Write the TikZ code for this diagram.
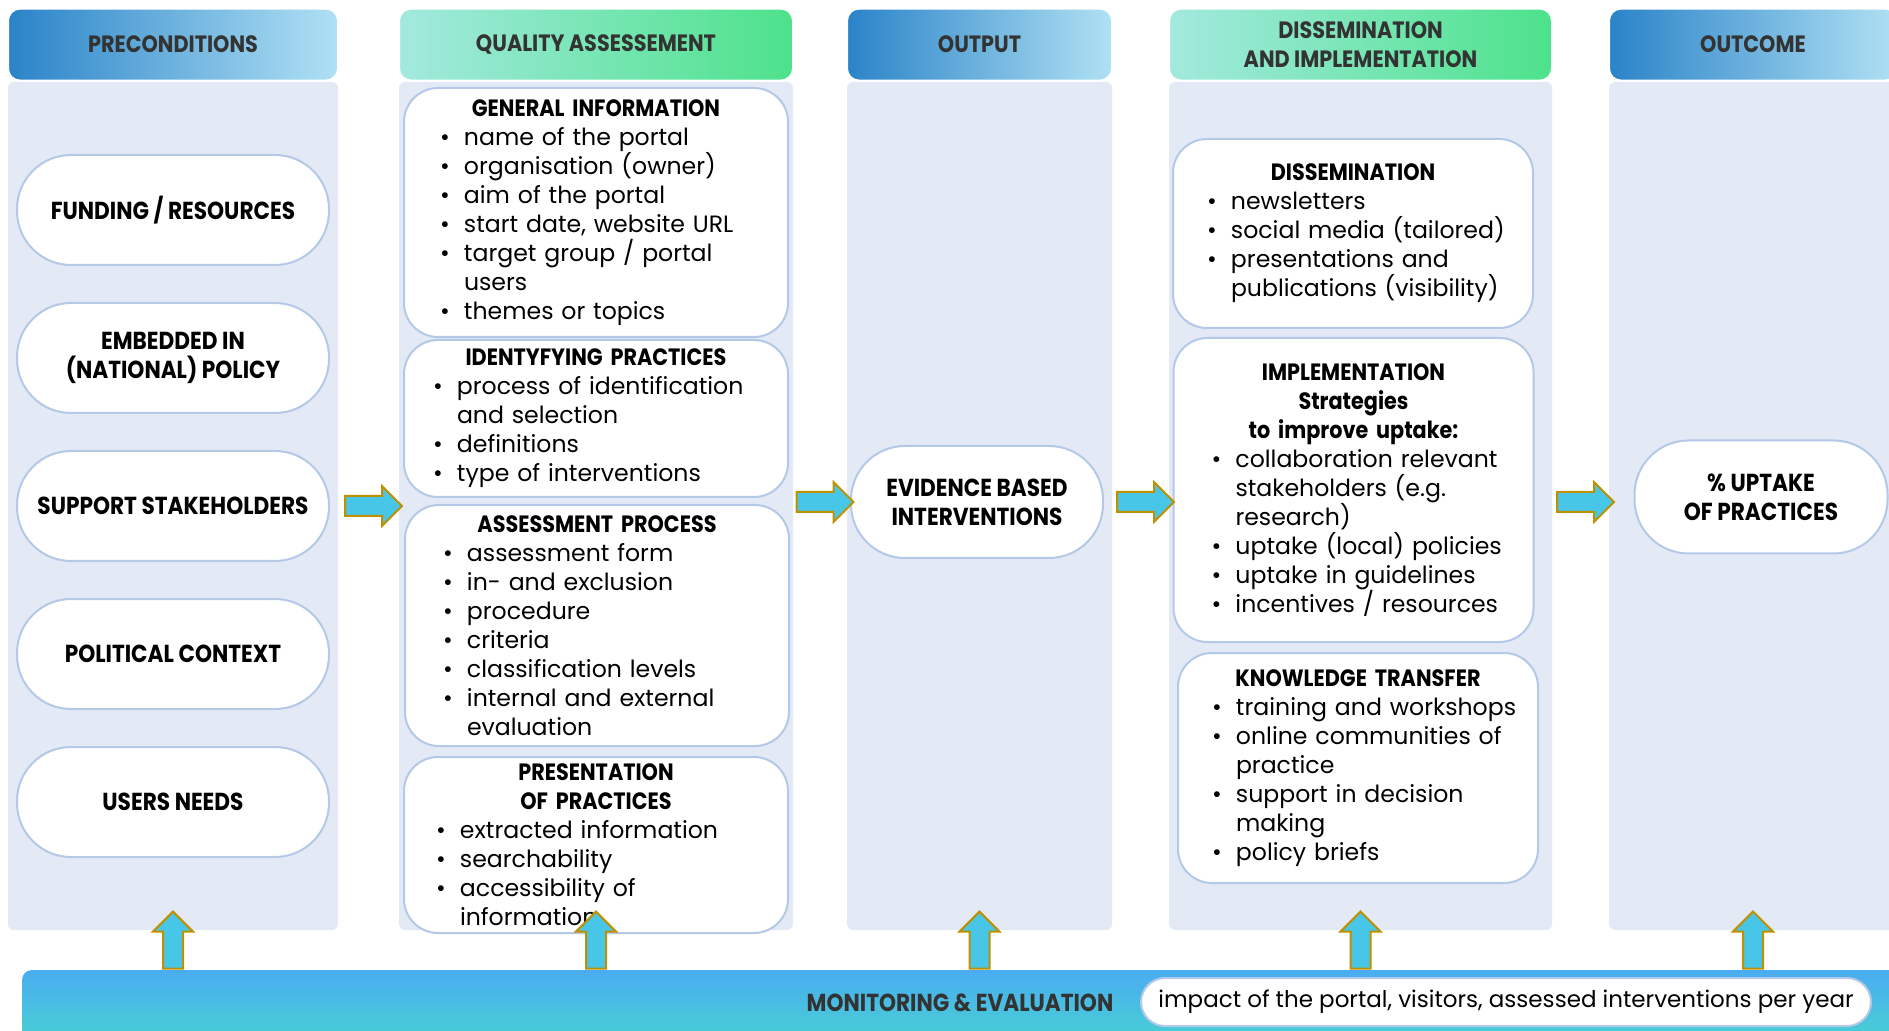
\documentclass[tikz,border=0pt]{standalone}
\usepackage{fontspec}
\setmainfont{Poppins}[BoldFeatures={FakeStretch=0.88}]
\usetikzlibrary{
  calc,
  positioning,
  shapes.arrows
}

\definecolor{colbody}{HTML}{E3EAF5}
\definecolor{nodeline}{HTML}{B4C8E8}
\definecolor{headdark}{HTML}{2A83C8}
\definecolor{headlight}{HTML}{B0E1F4}
\definecolor{greenlight}{HTML}{A3E9DE}
\definecolor{greendark}{HTML}{4DE28B}
\definecolor{arrowfill}{HTML}{47C6E8}
\definecolor{arrowline}{HTML}{BF9000}
\definecolor{titlegray}{HTML}{333333}
\definecolor{bartop}{HTML}{4AACF1}
\definecolor{barbottom}{HTML}{48D0D3}

\newcommand{\bodysize}{\fontsize{11.8}{14.5}\selectfont}
\newcommand{\pillsize}{\fontsize{12.3}{14.5}\selectfont}

% One bullet line, continuation lines hang under the text.
\newcommand{\bul}[1]{\par\hangindent=12pt\hangafter=1\noindent
  \makebox[12pt][l]{\textbullet}#1}

\tikzset{
  % For the pale columns behind every stage.
  stage column/.style={
    fill=colbody,
    rounded corners=3pt,
    minimum height=424pt,
    inner sep=0pt},
%
  % For the headers on top of the columns.
  col head/.style={
    draw=white,
    line width=1pt,
    rounded corners=6pt,
    minimum height=36pt,
    inner sep=0pt,
    align=center,
    text=titlegray,
    font=\bodysize\bfseries},
  blue head/.style={
    col head,
    left color=headdark,
    right color=headlight},
  green head/.style={
    col head,
    left color=greenlight,
    right color=greendark},
%
  % For the pill shaped items.
  pill/.style={
    draw=nodeline,
    fill=white,
    line width=1pt,
    rounded corners=27pt,
    minimum height=55pt,
    align=center,
    font=\pillsize\bfseries},
%
  % For boxes with a title and a bullet list.
  list box/.style={
    draw=nodeline,
    fill=white,
    line width=1pt,
    rounded corners=17pt,
    inner xsep=6pt,
    inner ysep=0pt,
    font=\bodysize},
%
  % For the fat arrows between the columns.
  block arrow/.style={
    single arrow,
    single arrow head extend=5pt,
    minimum height=28.5pt,
    inner sep=0pt,
    inner ysep=4.5pt,
    draw=arrowline,
    line width=1pt,
    fill=arrowfill},
%
  % For the monitoring band at the bottom.
  me bar/.style={
    rounded corners=5pt,
    top color=bartop,
    bottom color=barbottom,
    minimum width=939pt,
    minimum height=35pt,
    inner sep=0pt},
  impact box/.style={
    draw=nodeline,
    fill=white,
    line width=1pt,
    rounded corners=12pt,
    minimum width=365pt,
    minimum height=24pt,
    font=\fontsize{11.5}{14}\selectfont}
}

\begin{document}
\begin{tikzpicture}[x=0.5pt, y=-0.5pt]
  \useasboundingbox (0,0) rectangle (1889,1031);

  \node[stage column, minimum width=165pt] (pre) at (173,506) {};
  \node[stage column, minimum width=197pt] (qa) at (596,506) {};
  \node[stage column, minimum width=132.5pt] (out) at (979.5,506) {};
  \node[stage column, minimum width=191.5pt] (dis) at (1360.5,506) {};
  \node[stage column, minimum width=144pt] (outc) at (1753,506) {};

  \node[blue head, minimum width=165pt, above=0pt of pre] (pre head) {PRECONDITIONS};
  \node[green head, minimum width=197pt, above=0pt of qa] (qa head) {QUALITY ASSESSEMENT};
  \node[blue head, minimum width=132.5pt, above=0pt of out] (out head) {OUTPUT};
  \node[green head, minimum width=191.5pt, above=0pt of dis] (dis head)
    {DISSEMINATION\\AND IMPLEMENTATION};
  \node[blue head, minimum width=144pt, above=0pt of outc] (outc head) {OUTCOME};

  \node[pill, minimum width=156pt] (fund) at (173,210) {FUNDING / RESOURCES};
  \node[pill, minimum width=156pt, below=18pt of fund] (embed)
    {EMBEDDED IN\\(NATIONAL) POLICY};
  \node[pill, minimum width=156pt, below=18pt of embed] (support) {SUPPORT STAKEHOLDERS};
  \node[pill, minimum width=156pt, below=18pt of support] (political) {POLITICAL CONTEXT};
  \node[pill, minimum width=156pt, below=18pt of political] (users) {USERS NEEDS};

  \node[list box, text width=180pt, minimum height=124.5pt] (gen) at (596,212.5) {
    {\centering\bfseries GENERAL INFORMATION\par}
    \raggedright\leftskip=12pt
    \bul{name of the portal}
    \bul{organisation (owner)}
    \bul{aim of the portal}
    \bul{start date, website URL}
    \bul{target group / portal\newline users}
    \bul{themes or topics}\par};
  \node[list box, text width=180pt, minimum height=78.5pt] (ident) at (596,418.5) {
    {\centering\bfseries IDENTYFYING PRACTICES\par}
    \raggedright\leftskip=8.5pt
    \bul{process of identification\newline and selection}
    \bul{definitions}
    \bul{type of interventions}\par};
  \node[list box, text width=180pt, minimum height=120.5pt] (assess) at (597,625.5) {
    {\centering\bfseries ASSESSMENT PROCESS\par}
    \raggedright\leftskip=13pt
    \bul{assessment form}
    \bul{in- and exclusion}
    \bul{procedure}
    \bul{criteria}
    \bul{classification levels}
    \bul{internal and external\newline evaluation}\par};
  \node[list box, text width=180pt, minimum height=88pt] (present) at (596,845) {
    {\centering\bfseries PRESENTATION\\OF PRACTICES\par}
    \raggedright\leftskip=10pt
    \bul{extracted information}
    \bul{searchability}
    \bul{accessibility of\newline information}\par};

  \node[pill, minimum width=126pt, minimum height=56pt] (evid) at (977,502)
    {EVIDENCE BASED\\INTERVENTIONS};

  \node[list box, text width=168pt, minimum height=94.5pt] (diss) at (1353,233.5) {
    {\centering\bfseries DISSEMINATION\par}
    \raggedright\leftskip=11pt
    \bul{newsletters}
    \bul{social media (tailored)}
    \bul{presentations and\newline publications (visibility)}\par};
  \node[list box, text width=168pt, minimum height=152pt] (impl) at (1353.5,490) {
    {\centering\bfseries IMPLEMENTATION\\Strategies\\to improve uptake:\par}
    \raggedright\leftskip=13pt
    \bul{collaboration relevant\newline stakeholders (e.g.\newline research)}
    \bul{uptake (local) policies}
    \bul{uptake in guidelines}
    \bul{incentives / resources}\par};
  \node[list box, text width=168pt, minimum height=115pt] (know) at (1358,768) {
    {\centering\bfseries KNOWLEDGE TRANSFER\par}
    \raggedright\leftskip=11pt
    \bul{training and workshops}
    \bul{online communities of\newline practice}
    \bul{support in decision\newline making}
    \bul{policy briefs}\par};

  \node[pill, minimum width=126.5pt, minimum height=56.5pt] (uptake) at (1761,497)
    {\% UPTAKE\\OF PRACTICES};

  \coordinate (m1) at ($(pre.east)!.5!(qa.west)$);
  \coordinate (m2) at ($(qa.east)!.5!(out.west)$);
  \coordinate (m3) at ($(out.east)!.5!(dis.west)$);
  \coordinate (m4) at ($(dis.east)!.5!(outc.west)$);
  \node[block arrow] (a1) at (m1 |- support) {};
  \node[block arrow] (a2) at (m2 |- evid) {};
  \node[block arrow] (a3) at (m3 |- evid) {};
  \node[block arrow] (a4) at (m4 |- evid) {};

  \node[me bar] (me) at (961,1005) {};
  \node[text=titlegray, font=\pillsize\bfseries] (me label) at (960,1003)
    {MONITORING \& EVALUATION};
  \node[impact box] (impact) at (1506,1002)
    {impact of the portal, visitors, assessed interventions per year};

  \node[block arrow, rotate=90, anchor=west] (u1) at (pre |- me.north) {};
  \node[block arrow, rotate=90, anchor=west] (u2) at (qa |- me.north) {};
  \node[block arrow, rotate=90, anchor=west] (u3) at (out |- me.north) {};
  \node[block arrow, rotate=90, anchor=west] (u4) at (dis |- me.north) {};
  \node[block arrow, rotate=90, anchor=west] (u5) at (outc |- me.north) {};
\end{tikzpicture}
\end{document}
